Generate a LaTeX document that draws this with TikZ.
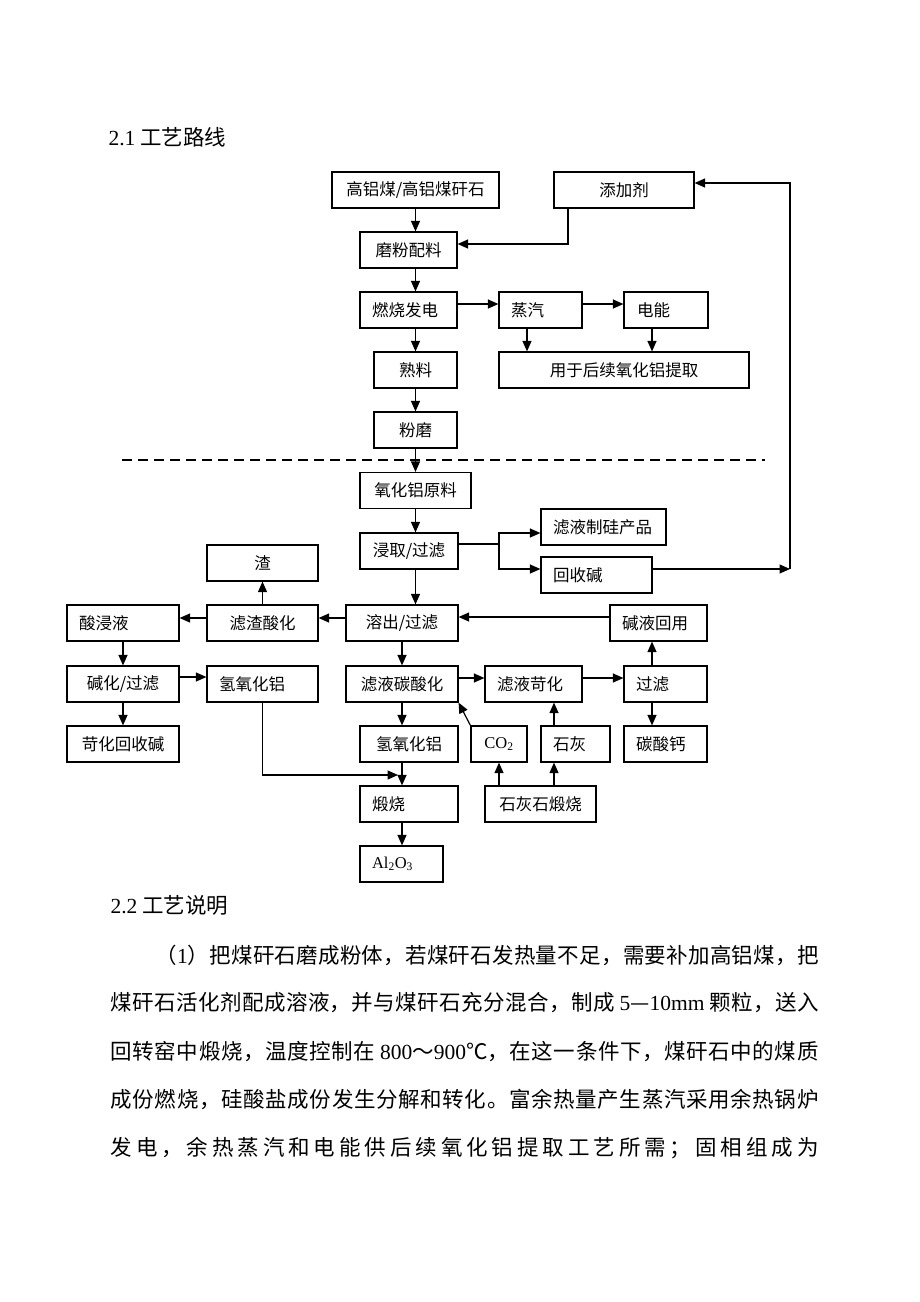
\documentclass[tikz,border=0pt]{standalone}
\usepackage{fontspec}
\setmainfont{Liberation Serif}
\newfontfamily\cjk{Noto Sans CJK SC}
\usetikzlibrary{arrows.meta}

% even spreading of CJK characters in the text lines
\chardef\spreadcls=9
\count255="4E00
\loop
  \XeTeXcharclass\count255=\spreadcls
  \ifnum\count255<"9FFF \advance\count255 by 1 \repeat
\XeTeXcharclass"FF0C=\spreadcls
\XeTeXcharclass"3002=\spreadcls
\XeTeXcharclass"FF1B=\spreadcls
\XeTeXcharclass"FF08=\spreadcls
\XeTeXcharclass"FF09=\spreadcls
\XeTeXinterchartoks\spreadcls\spreadcls={\hskip 0pt plus 1fil}
\newcommand\spreadline[2]{\hbox to #1{\XeTeXinterchartokenstate=1\relax #2}}

\begin{document}
\begin{tikzpicture}[x=1pt,y=-1pt,line width=1.2pt,>={Triangle[length=10.5pt,width=9pt]}]
    \tikzstyle{stage}=[draw,minimum height=36pt,inner xsep=12pt,inner ysep=0pt,align=center,font=\cjk\fontsize{16.5}{18}\selectfont]
    \tikzstyle{left stage}=[stage,align=left]
    \tikzstyle{flow}=[->]
    \tikzstyle{heading}=[anchor=west,inner sep=0pt,font=\cjk\fontsize{21.5}{24}\selectfont]
    \tikzstyle{para}=[heading]

    \useasboundingbox (0,0) rectangle (920,1302);

    \node[heading] (t1) at (108,137) {{\rmfamily 2.1} 工艺路线};

    % burning part
    \node[stage, text width=143pt] (src) at (415.5,190) {高铝煤/高铝煤矸石};
    \node[stage, text width=116pt] (add) at (624,190) {添加剂};
    \node[stage, text width=73pt] (mill) at (408.5,250) {磨粉配料};
    \node[left stage, text width=73pt] (burn) at (408.5,310) {燃烧发电};
    \node[left stage, text width=59pt] (steam) at (540.5,310) {蒸汽};
    \node[left stage, text width=58pt, inner xsep=13pt] (power) at (666,310) {电能};
    \node[stage, text width=59pt] (clinker) at (415.5,370) {熟料};
    \node[stage, text width=226pt] (use) at (624,370) {用于后续氧化铝提取};
    \node[stage, text width=59pt] (grind) at (415.5,430) {粉磨};

    \coordinate (cut1) at (122,460);
    \coordinate (cut2) at (765,460);

    % extraction part
    \node[stage, text width=87pt] (raw) at (415.5,490.5) {氧化铝原料};
    \node[stage, text width=74pt] (leach) at (409,551) {浸取/过滤};
    \node[left stage, text width=101pt] (sil) at (603.5,527) {滤液制硅产品};
    \node[left stage, text width=87pt] (rec) at (596.5,575) {回收碱};
    \node[stage, text width=87pt] (slag) at (262.5,563) {渣};
    \node[left stage, text width=88pt] (acid) at (123,623) {酸浸液};
    \node[stage, text width=87pt] (sacid) at (262.5,623) {滤渣酸化};
    \node[stage, text width=88pt] (diss) at (402,623) {溶出/过滤};
    \node[left stage, text width=73pt] (lye) at (658.5,623) {碱液回用};
    \node[stage, text width=88pt] (alk) at (123,684) {碱化/过滤};
    \node[left stage, text width=87pt] (ahl) at (262.5,684) {氢氧化铝};
    \node[stage, text width=88pt] (carb) at (402,684) {滤液碳酸化};
    \node[left stage, text width=73pt] (caus) at (533.5,684) {滤液苛化};
    \node[left stage, text width=59pt] (filt) at (665.5,684) {过滤};
    \node[stage, text width=88pt] (causrec) at (123,744) {苛化回收碱};
    \node[stage, text width=74pt] (ahm) at (409,744) {氢氧化铝};
    \node[stage, text width=32pt] (co) at (499,744) {{\rmfamily CO\textsubscript{2}}};
    \node[left stage, text width=45pt] (lime) at (575.5,744) {石灰};
    \node[left stage, text width=59pt] (caco) at (665.5,744) {碳酸钙};
    \node[left stage, text width=74pt] (calc) at (409,804) {煅烧};
    \node[stage, text width=87pt] (lsc) at (540.5,804) {石灰石煅烧};
    \node[left stage, text width=59pt] (alo) at (401.5,864) {{\rmfamily Al\textsubscript{2}O\textsubscript{3}}};

    \coordinate (split) at (499,544);
    \coordinate (back) at (790,569);
    \coordinate (join) at (398,775);

    % upper links
    \draw[flow] (src) -- (mill.north -| src);
    \draw[flow] ([xshift=-56pt]add.south) |- ([yshift=6pt]mill.east);
    \draw[flow] (mill.south -| clinker) -- (burn.north -| clinker);
    \draw[flow] (burn.south -| clinker) -- (clinker);
    \draw[flow] (clinker) -- (grind);
    \draw[flow] ([yshift=6pt]burn.east) -- ([yshift=6pt]steam.west);
    \draw[flow] ([yshift=6pt]steam.east) -- ([yshift=6pt]power.west);
    \draw[flow] ([xshift=-13.5pt]steam.south) -- ([xshift=-13.5pt]steam.south |- use.north);
    \draw[flow] ([xshift=-14pt]power.south) -- ([xshift=-14pt]power.south |- use.north);

    \draw[dash pattern=on 10pt off 6pt,line width=1.6pt] (cut1) -- (cut2);
    \draw[flow] (grind) -- (raw);

    % lower links
    \draw[flow] (raw.south) -- (raw.south |- leach.north);
    \draw ([yshift=7pt]leach.east) -- (split);
    \draw[flow] (split) |- ([yshift=-6pt]sil.west);
    \draw[flow] (split) |- ([yshift=6pt]rec.west);
    \draw[flow] ([yshift=6pt]rec.east) -- (back);
    \draw[flow] (back) |- ([yshift=7pt]add.east);
    \draw[flow] (leach.south -| raw) -- (diss.north -| raw);
    \draw[flow] ([yshift=5pt]diss.west) -- ([yshift=5pt]sacid.east);
    \draw[flow] ([yshift=5pt]sacid.west) -- ([yshift=5pt]acid.east);
    \draw[flow] (sacid) -- (slag);
    \draw[flow] ([yshift=6pt]lye.west) -- ([yshift=6pt]lye.west -| diss.east);
    \draw[flow] (acid) -- (alk);
    \draw[flow] ([yshift=7pt]alk.east) -- ([yshift=7pt]ahl.west);
    \draw[flow] (alk) -- (causrec);
    \draw[flow] (diss) -- (carb);
    \draw[flow] (carb.south) -- (carb.south |- ahm.north);
    \draw[flow] ([yshift=6pt]carb.east) -- ([yshift=6pt]caus.west);
    \draw[flow] ([yshift=6pt]caus.east) -- ([yshift=6pt]filt.west);
    \draw[flow] ([xshift=-13.5pt]filt.north) -- ([xshift=-13.5pt]filt.north |- lye.south);
    \draw[flow] ([xshift=-13.5pt]filt.south) -- ([xshift=-13.5pt]filt.south |- caco.north);
    \draw[flow] (co.north west) -- (carb.south east);
    \draw[flow] ([xshift=-21.5pt]lime.north) -- ([xshift=-21.5pt]lime.north |- caus.south);
    \draw[flow] (co.south |- lsc.north) -- (co.south);
    \draw[flow] ([xshift=-21.5pt]lime.south |- lsc.north) -- ([xshift=-21.5pt]lime.south);
    \draw[flow] (ahm.south -| carb) -- (calc.north -| carb);
    \draw[flow] (ahl) |- (join);
    \draw[flow] (calc.south -| carb) -- (alo.north -| carb);

    % text below
    \node[heading] (t2) at (110,905) {{\rmfamily 2.2} 工艺说明};
    \node[para] (l1) at (155,955) {\spreadline{663pt}{（{\rmfamily 1}）把煤矸石磨成粉体，若煤矸石发热量不足，需要补加高铝煤，把}};
    \node[para] (l2) at (110,1003) {\spreadline{708pt}{煤矸石活化剂配成溶液，并与煤矸石充分混合，制成 {\rmfamily 5}—{\rmfamily 10mm} 颗粒，送入}};
    \node[para] (l3) at (110,1052) {\spreadline{708pt}{回转窑中煅烧，温度控制在 {\rmfamily 800}～{\rmfamily 900}℃，在这一条件下，煤矸石中的煤质}};
    \node[para] (l4) at (110,1099) {\spreadline{708pt}{成份燃烧，硅酸盐成份发生分解和转化。富余热量产生蒸汽采用余热锅炉}};
    \node[para] (l5) at (110,1148) {\spreadline{708pt}{发电，余热蒸汽和电能供后续氧化铝提取工艺所需；固相组成为}};
\end{tikzpicture}
\end{document}
